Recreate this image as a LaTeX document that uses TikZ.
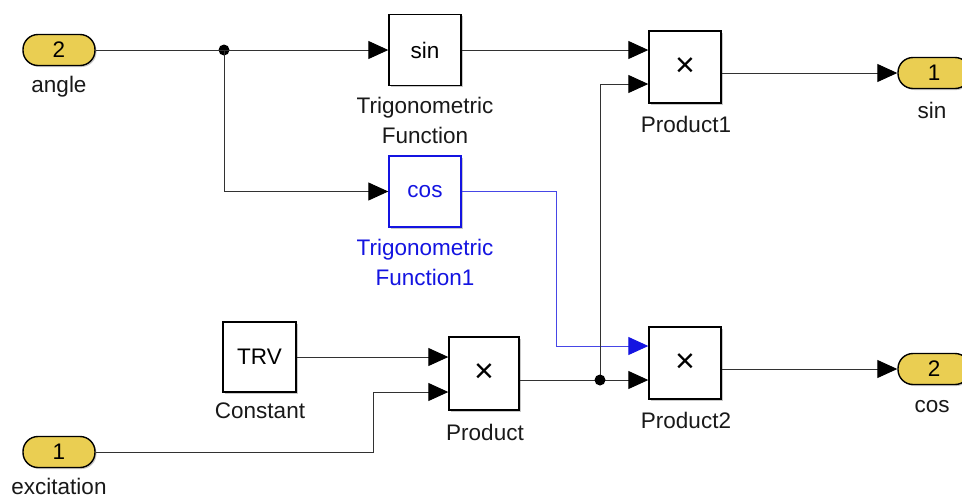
\documentclass[tikz,border=0pt]{standalone}
\usepackage{fontspec}
\setmainfont{Liberation Sans}
\usetikzlibrary{arrows.meta,shadows}
\definecolor{portyellow}{RGB}{234,206,82}
\definecolor{simblue}{RGB}{20,20,225}
\definecolor{lineblue}{RGB}{70,70,230}
\definecolor{wire}{RGB}{50,50,50}
\begin{document}
\begin{tikzpicture}[x=1pt,y=-1pt,
  font=\fontsize{22.5}{30}\selectfont,
  blk/.style={draw=black,line width=1.4pt,fill=white,minimum width=72pt,minimum height=72pt,inner sep=0pt,
    drop shadow={shadow xshift=1.5pt,shadow yshift=-1.5pt,opacity=0.35,fill=black!60}},
  port/.style={draw=black,line width=1.4pt,fill=portyellow,rounded corners=15pt,minimum width=72pt,minimum height=31pt,inner sep=0pt,
    drop shadow={shadow xshift=1.5pt,shadow yshift=-1.5pt,opacity=0.35,fill=black!60}},
  lbl/.style={text=black!90,inner sep=0pt,align=center},
  times/.style={font=\fontsize{34}{34}\selectfont},
  wireline/.style={draw=wire,line width=1pt},
  sig/.style={wireline,-{Triangle[length=20pt,width=18pt,color=black]}},
  dot/.style={circle,fill=black,inner sep=0pt,minimum size=11pt}
]
\clip (0,0) rectangle (962,499);
\fill[white] (0,0) rectangle (962,499);

% ports
\node[port] (in2) at (59,50) {2};
\node[lbl] (angle) at (59,87) {angle};
\node[port] (in1) at (59,452) {1};
\node[lbl] (exc) at (59,486) {excitation};
\node[port] (out1) at (934,73) {1};
\node[lbl] (sinlbl) at (932,110) {sin};
\node[port] (out2) at (934,369) {2};
\node[lbl] (coslbl) at (932,407) {cos};

% blocks
\node[blk,minimum height=71pt] (sinb) at (425,50) {sin};
\node[lbl] (trig) at (425,120) {Trigonometric\\Function};
\node[blk,minimum height=71pt,draw=simblue,text=simblue] (cosb) at (425,191.5) {cos};
\node[lbl,text=simblue] (trig1) at (425,262) {Trigonometric\\Function1};
\node[blk,minimum width=73pt,minimum height=70pt] (const) at (259.5,357) {TRV};
\node[lbl] (constlbl) at (260,411) {Constant};
\node[blk,minimum width=70pt,minimum height=73pt,times] (prod) at (484,373.5) {×};
\node[lbl] (prodlbl) at (485,432) {Product};
\node[blk,times] (prod1) at (685,67) {×};
\node[lbl] (prod1lbl) at (686,124) {Product1};
\node[blk,times] (prod2) at (685,363) {×};
\node[lbl] (prod2lbl) at (686,420) {Product2};

% junctions
\node[dot] (j1) at (224,50) {};
\coordinate (j2) at (600,380);

% wires
\draw[sig] (in2.east) -- (sinb.west);
\draw[sig] (j1.center) |- (cosb.west);
\draw[sig] (sinb.east) -- ([yshift=17pt]prod1.west);
\draw[sig] (prod1.east |- out1.west) -- (out1.west);
\draw[sig,draw=lineblue,-{Triangle[length=20pt,width=18pt,color=simblue]}] (cosb.east) -- ++(95,0) |- ([yshift=17pt]prod2.west);
\draw[sig] (const.east) -- ([yshift=16.5pt]prod.west);
\draw[sig] (in1.east) -- ++(278,0) |- ([yshift=-18.5pt]prod.west);
\draw[sig] ([yshift=-6.5pt]prod.east) -- ([yshift=-17pt]prod2.west);
\draw[sig] (j2) |- ([yshift=-17pt]prod1.west);
\draw[sig] (prod2.east |- out2.west) -- (out2.west);
\node[dot] (j2dot) at (j2) {};
\end{tikzpicture}
\end{document}
